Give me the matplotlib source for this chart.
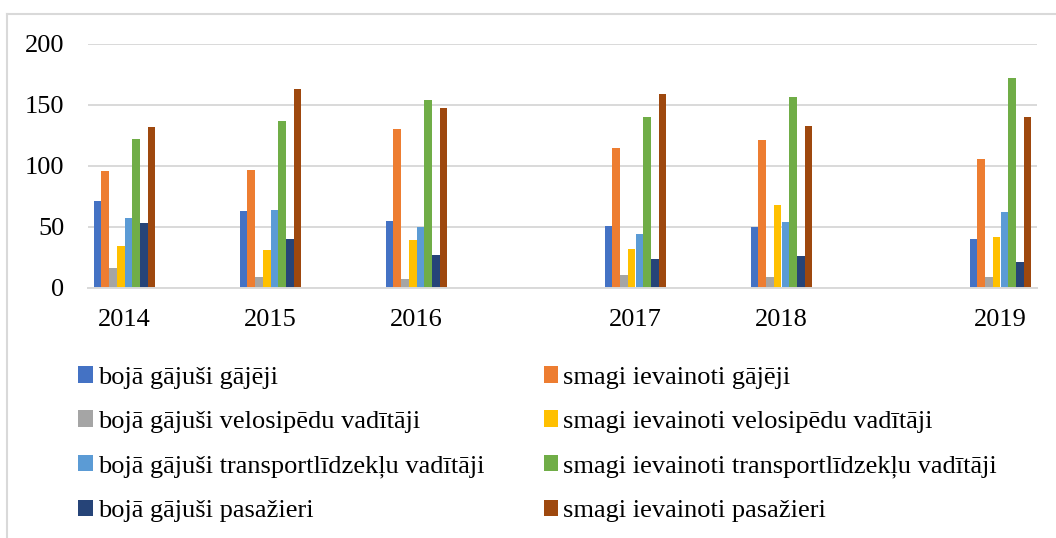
import matplotlib
matplotlib.use("Agg")
import matplotlib.pyplot as plt
from matplotlib.lines import Line2D
from matplotlib.patches import Patch
import numpy as np

plt.rcParams["font.family"] = ["Liberation Serif", "DejaVu Serif"]

years = ["2014", "2015", "2016", "2017", "2018", "2019"]
# the source chart spaces the years unevenly (empty category slots between)
year_slots = [0, 2, 4, 7, 9, 12]

series_names = [
    "bojā gājuši gājēji",
    "smagi ievainoti gājēji",
    "bojā gājuši velosipēdu vadītāji",
    "smagi ievainoti velosipēdu vadītāji",
    "bojā gājuši transportlīdzekļu vadītāji",
    "smagi ievainoti transportlīdzekļu vadītāji",
    "bojā gājuši pasažieri",
    "smagi ievainoti pasažieri",
]
killed_pedestrians = [71, 63, 55, 51, 50, 40]
injured_pedestrians = [96, 97, 130, 115, 121, 106]
killed_cyclists = [16, 9, 7, 11, 9, 9]
injured_cyclists = [34, 31, 39, 32, 68, 42]
killed_drivers = [57, 64, 50, 44, 54, 62]
injured_drivers = [122, 137, 154, 140, 156, 172]
killed_passengers = [53, 40, 27, 24, 26, 21]
injured_passengers = [132, 163, 147, 159, 133, 140]

series_values = [
    killed_pedestrians, injured_pedestrians,
    killed_cyclists, injured_cyclists,
    killed_drivers, injured_drivers,
    killed_passengers, injured_passengers,
]
colors = ["#4472C4", "#ED7D31", "#A5A5A5", "#FFC000",
          "#5B9BD5", "#70AD47", "#264478", "#9E480E"]

W, H = 1056, 538
fig = plt.figure(figsize=(W / 100, H / 100), dpi=100)
ax = fig.add_axes([88 / W, 1 - 288 / H, (1037 - 88) / W, (288 - 43.7) / H])

x = np.array(year_slots, dtype=float)
bar_w = 0.106
for i, (vals, col) in enumerate(zip(series_values, colors)):
    ax.bar(x + (i - 3.5) * bar_w, vals, width=bar_w, color=col, zorder=3)

grid_col = "#d9d9d9"
ax.set_xlim(-0.5, 12.5)
ax.set_ylim(0, 200)
ax.set_yticks([0, 50, 100, 150, 200])
ax.set_xticks(x)
ax.set_xticklabels(years)
ax.yaxis.grid(True, color=grid_col, linewidth=1.4, zorder=0)
ax.tick_params(axis="both", length=0, labelsize=19, colors="black")
ax.tick_params(axis="y", pad=17)
ax.tick_params(axis="x", pad=15)
for side in ["top", "right", "left"]:
    ax.spines[side].set_visible(False)
ax.spines["bottom"].set_color(grid_col)
ax.spines["bottom"].set_linewidth(1.4)
ax.spines["bottom"].set_zorder(4)

# legend: left column = killed, right column = seriously injured
order = [0, 2, 4, 6, 1, 3, 5, 7]
handles = [Patch(facecolor=colors[k], edgecolor="none") for k in order]
labels = [series_names[k] for k in order]
fig.legend(handles, labels, ncol=2, loc="upper left",
           bbox_to_anchor=(78 / W, 1 - 366 / H), frameon=False,
           fontsize=19, handlelength=0.55, handleheight=0.6,
           handletextpad=0.2, columnspacing=2.25, labelspacing=0.82,
           borderaxespad=0, borderpad=0)

# chart area outline (only top and left visible in the crop)
fig.add_artist(Line2D([7 / W, 7 / W], [0, 1 - 14 / H], transform=fig.transFigure,
                      color=grid_col, linewidth=1.5))
fig.add_artist(Line2D([7 / W, 1], [1 - 14 / H, 1 - 14 / H], transform=fig.transFigure,
                      color=grid_col, linewidth=1.5))

fig.savefig("out.png", dpi=100)
